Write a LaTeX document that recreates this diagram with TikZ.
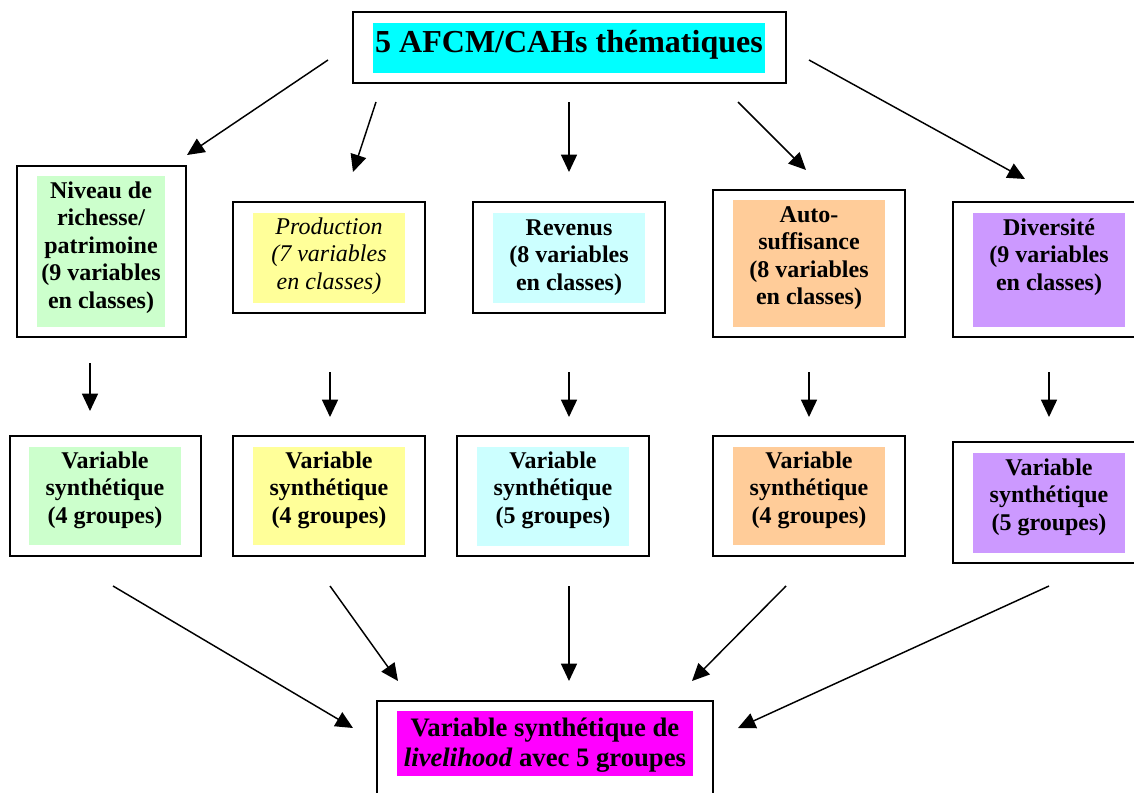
\documentclass[tikz,border=0pt]{standalone}
\usepackage{fontspec}
\setmainfont{Liberation Serif}
\usetikzlibrary{arrows.meta}
\definecolor{cTitle}{HTML}{00FFFF}
\definecolor{cGreen}{HTML}{CCFFCC}
\definecolor{cYellow}{HTML}{FFFF99}
\definecolor{cCyan}{HTML}{CCFFFF}
\definecolor{cOrange}{HTML}{FFCC99}
\definecolor{cPurple}{HTML}{CC99FF}
\definecolor{cMagenta}{HTML}{FF00FF}
\begin{document}
\begin{tikzpicture}[x=0.75pt,y=-0.75pt,
  frame/.style={draw=black, line width=1.5pt, inner sep=0pt, rectangle},
  lbl/.style={anchor=base, align=center, inner sep=0pt,
    font=\fontsize{18pt}{20.6pt}\selectfont\bfseries},
  ilbl/.style={anchor=base, align=center, inner sep=0pt,
    font=\fontsize{18pt}{20.6pt}\selectfont\itshape},
  arr/.style={line width=1.1pt, -{Triangle[length=13pt,width=12pt]}}]
\useasboundingbox (0,0) rectangle (1134,792);
\clip (0,0) rectangle (1134,792);

% ---- fills ----
\fill[cTitle]   (373,23) rectangle (765,73);
\fill[cGreen]   (37,176) rectangle (165,327);
\fill[cYellow]  (253,213) rectangle (405,303);
\fill[cCyan]    (493,213) rectangle (645,303);
\fill[cOrange]  (733,200) rectangle (885,327);
\fill[cPurple]  (973,213) rectangle (1125,327);
\fill[cGreen]   (29,447) rectangle (181,545);
\fill[cYellow]  (253,447) rectangle (405,545);
\fill[cCyan]    (477,447) rectangle (629,546);
\fill[cOrange]  (733,447) rectangle (885,545);
\fill[cPurple]  (973,453) rectangle (1125,553);
\fill[cMagenta] (397,711) rectangle (693,776);

% ---- frames ----
\node[frame, minimum width=324.75pt, minimum height=53.25pt] (title) at (569.5,47.5) {};
\node[frame, minimum width=126.75pt, minimum height=128.25pt] (niv) at (101.5,251.5) {};
\node[frame, minimum width=144pt, minimum height=83.25pt] (prod) at (329,257.5) {};
\node[frame, minimum width=144pt, minimum height=83.25pt] (rev) at (569,257.5) {};
\node[frame, minimum width=144pt, minimum height=110.25pt] (auto) at (809,263.5) {};
\node[frame, minimum width=144pt, minimum height=101.25pt] (div) at (1049,269.5) {};
\node[frame, minimum width=143.25pt, minimum height=90pt] (va) at (105.5,496) {};
\node[frame, minimum width=144pt, minimum height=90pt] (vb) at (329,496) {};
\node[frame, minimum width=144pt, minimum height=90pt] (vc) at (553,496) {};
\node[frame, minimum width=144pt, minimum height=90pt] (vd) at (809,496) {};
\node[frame, minimum width=144pt, minimum height=90.75pt] (ve) at (1049,502.5) {};
\node[frame, minimum width=252pt, minimum height=74.25pt] (final) at (545,750.5) {};

% ---- texts (anchored at the baseline of the last line) ----
\node[anchor=base, inner sep=0pt, font=\fontsize{24pt}{27pt}\selectfont\bfseries] (ttitle) at (569,53) {5 AFCM/CAHs thématiques};
\node[lbl] (tniv) at (101,308) {Niveau de\\richesse/\\patrimoine\\(9 variables\\en classes)};
\node[ilbl] (tprod) at (329,289) {Production\\(7 variables\\en classes)};
\node[lbl] (trev) at (569,290) {Revenus\\(8 variables\\en classes)};
\node[lbl] (tauto) at (809,304.5) {Auto-\\suffisance\\(8 variables\\en classes)};
\node[lbl] (tdiv) at (1049,290) {Diversité\\(9 variables\\en classes)};
\node[lbl] (tva) at (105,523) {Variable\\synthétique\\(4 groupes)};
\node[lbl] (tvb) at (329,523) {Variable\\synthétique\\(4 groupes)};
\node[lbl] (tvc) at (553,523) {Variable\\synthétique\\(5 groupes)};
\node[lbl] (tvd) at (809,523) {Variable\\synthétique\\(4 groupes)};
\node[lbl] (tve) at (1049,530) {Variable\\synthétique\\(5 groupes)};
\node[anchor=base, align=center, inner sep=0pt, font=\fontsize{20pt}{22pt}\selectfont\bfseries] (tfinal) at (545,766) {Variable synthétique de\\\textit{livelihood} avec 5 groupes};

% ---- arrow end points ----
\coordinate (s1) at (328,60);   \coordinate (e1) at (187,155);
\coordinate (s2) at (376,102);  \coordinate (e2) at (353,172);
\coordinate (s3) at (569,102);  \coordinate (e3) at (569,172);
\coordinate (s4) at (738,102);  \coordinate (e4) at (806,170);
\coordinate (s5) at (809,60);   \coordinate (e5) at (1025,179);
\coordinate (m1s) at (90,363);  \coordinate (m1e) at (90,411);
\coordinate (m2s) at (330,372); \coordinate (m2e) at (330,417);
\coordinate (m3s) at (569,372); \coordinate (m3e) at (569,417);
\coordinate (m4s) at (809,372); \coordinate (m4e) at (809,417);
\coordinate (m5s) at (1049,372);\coordinate (m5e) at (1049,417);
\coordinate (b1s) at (113,586); \coordinate (b1e) at (353,728);
\coordinate (b2s) at (330,586); \coordinate (b2e) at (398,681);
\coordinate (b3s) at (569,586); \coordinate (b3e) at (569,681);
\coordinate (b4s) at (786,586); \coordinate (b4e) at (692,681);
\coordinate (b5s) at (1049,586);\coordinate (b5e) at (738,728);

\foreach \a/\b in {s1/e1,s2/e2,s3/e3,s4/e4,s5/e5,m1s/m1e,m2s/m2e,m3s/m3e,m4s/m4e,m5s/m5e,b1s/b1e,b2s/b2e,b3s/b3e,b4s/b4e,b5s/b5e}
  \draw[arr] (\a) -- (\b);
\end{tikzpicture}
\end{document}
